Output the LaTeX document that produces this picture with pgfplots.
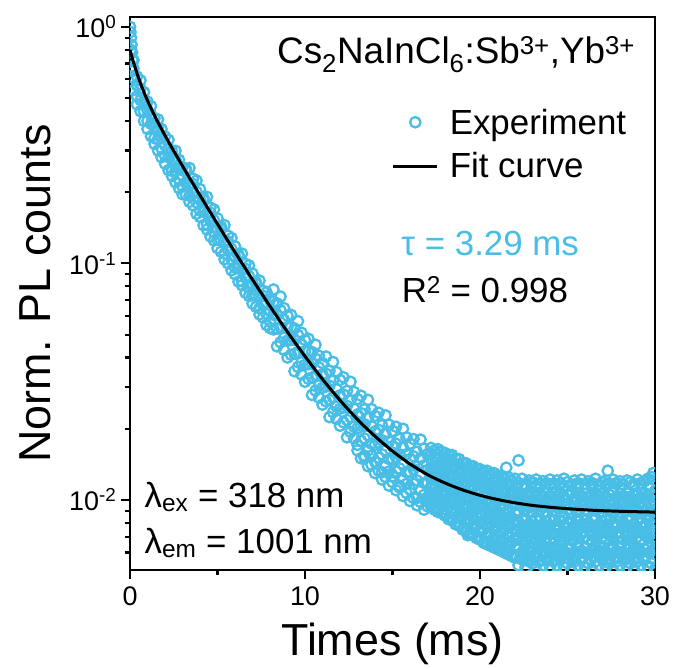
\documentclass[border=0pt]{standalone}
\usepackage{pgfplots}
\pgfplotsset{compat=1.18}
\usepackage{pgfplotstable}
\usetikzlibrary{calc}
\usepackage{fontspec}
\setmainfont{Liberation Sans}
\definecolor{expblue}{RGB}{72,190,230}
\pgfplotsset{
  explegend/.style={legend image code/.code={\path (0bp,0bp) (44bp,0bp); \draw[##1] plot coordinates {(22bp,0bp)};}},
  fitlegend/.style={legend image code/.code={\draw[##1] (0bp,0bp) -- (44bp,0bp);}},
}

\pgfplotstableread{
t y
0.00 1.00
0.03 0.95
0.06 0.90
0.09 0.84
0.12 0.78
0.15 0.72
0.10 0.68
0.15 0.65
0.05 0.80
}\startdata

\pgfplotstableread{
t a b c d
0.2 0.608 0.665 0.722 0.54
0.4 0.508 0.565 0.616 0.47
0.6 0.490 0.548 0.594 0.44
0.8 0.439 0.486 0.529 0.40
1.0 0.400 0.444 0.483 0.37
1.2 0.389 0.426 0.462 0.345
1.4 0.338 0.375 0.409 0.32
1.6 0.335 0.375 0.406 0.30
1.8 0.307 0.340 0.370 0.281
2.0 0.285 0.316 0.344 0.264
2.2 0.281 0.307 0.333 0.248
2.4 0.246 0.274 0.298 0.234
2.6 0.246 0.275 0.299 0.220
2.8 0.227 0.252 0.274 0.208
3.0 0.212 0.235 0.255 0.196
3.2 0.219 0.246 0.251 0.195
3.4 0.193 0.216 0.253 0.182
3.6 0.200 0.217 0.228 0.176
3.8 0.181 0.201 0.224 0.162
4.0 0.167 0.186 0.206 0.157
4.2 0.165 0.185 0.189 0.145
4.4 0.146 0.163 0.191 0.139
4.6 0.151 0.164 0.172 0.130
4.8 0.136 0.152 0.169 0.125
5.0 0.126 0.141 0.155 0.116
5.2 0.125 0.140 0.143 0.112
5.4 0.110 0.124 0.145 0.104
5.6 0.114 0.124 0.131 0.100
5.8 0.104 0.115 0.128 0.0935
6.0 0.0959 0.107 0.118 0.0900
6.2 0.0951 0.107 0.109 0.0838
6.4 0.0841 0.0941 0.110 0.0808
6.6 0.0873 0.0949 0.0996 0.0752
6.8 0.0792 0.0882 0.0981 0.0728
7.0 0.0734 0.0820 0.0905 0.0677
7.2 0.0729 0.0818 0.0834 0.0655
7.4 0.0646 0.0723 0.0846 0.0609
7.6 0.0672 0.0730 0.0767 0.0591
7.8 0.0610 0.0679 0.0755 0.0549
8.0 0.0567 0.0633 0.0699 0.0533
}\earlydata

\pgfplotstableread{
t a b c d
8.2 0.0526 0.0607 0.0689 0.0776
8.4 0.0446 0.0530 0.0607 0.0678
8.6 0.0464 0.0538 0.0634 0.0724
8.8 0.0431 0.0485 0.0577 0.0647
9.0 0.0400 0.0472 0.0539 0.0600
9.2 0.0411 0.0474 0.0538 0.0606
9.4 0.0350 0.0415 0.0475 0.0531
9.6 0.0365 0.0423 0.0498 0.0570
9.8 0.0339 0.0382 0.0454 0.0509
10.0 0.0316 0.0373 0.0425 0.0474
10.2 0.0325 0.0375 0.0426 0.0480
10.4 0.0278 0.0329 0.0377 0.0422
10.6 0.0290 0.0336 0.0396 0.0453
10.8 0.0271 0.0305 0.0363 0.0407
11.0 0.0253 0.0298 0.0340 0.0379
11.2 0.0261 0.0302 0.0342 0.0404
11.4 0.0224 0.0265 0.0304 0.0352
11.6 0.0235 0.0272 0.0320 0.0383
11.8 0.0220 0.0248 0.0294 0.0347
12.0 0.0206 0.0243 0.0277 0.0322
12.2 0.0213 0.0246 0.0279 0.0330
12.4 0.0184 0.0218 0.0250 0.0289
12.6 0.0194 0.0224 0.0264 0.0316
12.8 0.0182 0.0204 0.0243 0.0286
13.0 0.0171 0.0201 0.0230 0.0267
13.2 0.0178 0.0206 0.0233 0.0276
13.4 0.0154 0.0182 0.0209 0.0242
13.6 0.0162 0.0188 0.0222 0.0265
13.8 0.0154 0.0173 0.0205 0.0242
14.0 0.0145 0.0171 0.0195 0.0227
14.2 0.0151 0.0175 0.0198 0.0234
14.4 0.0131 0.0156 0.0179 0.0207
14.6 0.0139 0.0162 0.0190 0.0228
14.8 0.0132 0.0149 0.0177 0.0208
15.0 0.0126 0.0148 0.0169 0.0196
15.2 0.0132 0.0152 0.0173 0.0204
15.4 0.0115 0.0136 0.0156 0.0181
15.6 0.0122 0.0142 0.0167 0.0200
15.8 0.0117 0.0131 0.0156 0.0184
16.0 0.0111 0.0131 0.0149 0.0173
16.2 0.0117 0.0135 0.0153 0.0181
16.4 0.0102 0.0121 0.0139 0.0160
16.6 0.0110 0.0127 0.0150 0.0180
16.8 0.0105 0.0118 0.0140 0.0165
17.0 0.0100 0.0118 0.0134 0.0156
}\middata

\pgfplotstableread{
t e
13.0 0.0162
13.2 0.0150
13.4 0.0151
13.6 0.0139
13.8 0.0141
14.0 0.0130
14.2 0.0133
14.4 0.0122
14.6 0.0125
14.8 0.0115
15.0 0.0119
15.2 0.0110
15.4 0.0113
15.6 0.0104
15.8 0.0107
16.0 0.0099
16.2 0.0102
16.4 0.0095
16.6 0.0098
16.8 0.0091
17.0 0.0094
}\midlow

\pgfplotstableread{
t a b c d e f g
17.2 .0094 .0101 .0114 .0123 .0137 .0149 .0166
17.4 .0091 .0102 .0111 .0124 .0134 .0151 .0162
17.6 .0089 .0100 .0109 .0122 .0133 .0149 .0164
17.8 .0088 .0096 .0108 .0118 .0132 .0145 .0160
18.0 .0086 .0096 .0105 .0118 .0129 .0145 .0158
18.2 .0083 .0094 .0102 .0115 .0126 .0142 .0155
18.4 .0082 .0090 .0102 .0111 .0126 .0138 .0155
18.6 .0079 .0089 .0098 .0110 .0121 .0137 .0150
18.8 .0078 .0086 .0098 .0107 .0121 .0132 .0149
19.0 .0075 .0085 .0093 .0106 .0116 .0131 .0144
19.2 .0074 .0082 .0093 .0102 .0116 .0127 .0143
19.4 .0072 .0081 .0089 .0101 .0112 .0126 .0140
19.6 .0071 .0078 .0090 .0098 .0112 .0123 .0139
19.8 .0069 .0078 .0086 .0098 .0108 .0122 .0136
20.0 .0068 .0075 .0086 .0095 .0108 .0119 .0135
20.2 .0066 .0075 .0082 .0095 .0104 .0119 .0132
20.4 .0065 .0072 .0083 .0092 .0105 .0116 .0133
20.6 .0064 .0072 .0080 .0092 .0101 .0116 .0129
20.8 .0063 .0070 .0081 .0089 .0102 .0113 .0130
21.0 .0062 .0070 .0078 .0089 .0099 .0113 .0126
21.2 .0061 .0068 .0079 .0087 .0100 .0110 .0127
21.4 .0060 .0068 .0076 .0087 .0096 .0110 .0124
21.6 .0059 .0066 .0076 .0084 .0097 .0108 .0125
21.8 .0058 .0066 .0073 .0084 .0094 .0108 .0121
22.0 .0057 .0064 .0074 .0082 .0095 .0106 .0123
22.2 .0053 .0062 .0069 .0081 .0090 .0107 .0118
22.4 .0056 .0060 .0072 .0078 .0094 .0103 .0123
22.6 .0052 .0064 .0068 .0082 .0091 .0106 .0116
22.8 .0055 .0061 .0071 .0079 .0093 .0104 .0121
23.0 .0054 .0063 .0069 .0081 .0089 .0107 .0119
23.2 .0051 .0060 .0072 .0078 .0094 .0103 .0122
23.4 .0055 .0064 .0068 .0082 .0090 .0106 .0117
23.6 .0053 .0061 .0071 .0079 .0093 .0104 .0120
23.8 .0056 .0063 .0069 .0081 .0089 .0107 .0118
24.0 .0052 .0060 .0072 .0078 .0094 .0103 .0122
24.2 .0055 .0063 .0069 .0082 .0090 .0106 .0117
24.4 .0053 .0061 .0071 .0079 .0093 .0104 .0121
24.6 .0056 .0064 .0068 .0081 .0089 .0107 .0118
24.8 .0052 .0060 .0072 .0078 .0094 .0103 .0123
25.0 .0054 .0062 .0070 .0080 .0091 .0105 .0119
25.2 .0051 .0063 .0068 .0083 .0089 .0106 .0116
25.4 .0055 .0060 .0071 .0078 .0093 .0102 .0121
25.6 .0053 .0064 .0069 .0081 .0090 .0107 .0118
25.8 .0056 .0061 .0072 .0079 .0094 .0104 .0122
26.0 .0052 .0063 .0070 .0082 .0091 .0106 .0117
26.2 .0054 .0060 .0068 .0080 .0089 .0103 .0120
26.4 .0051 .0062 .0071 .0078 .0093 .0105 .0118
26.6 .0055 .0064 .0069 .0083 .0090 .0107 .0123
26.8 .0053 .0061 .0072 .0079 .0092 .0104 .0116
27.0 .0056 .0063 .0070 .0081 .0089 .0106 .0119
27.2 .0052 .0060 .0068 .0078 .0094 .0102 .0121
27.4 .0054 .0062 .0071 .0082 .0091 .0105 .0117
27.6 .0051 .0064 .0069 .0080 .0090 .0107 .0122
27.8 .0055 .0061 .0072 .0079 .0093 .0103 .0118
28.0 .0053 .0063 .0070 .0083 .0089 .0106 .0120
28.2 .0056 .0060 .0068 .0080 .0092 .0104 .0116
28.4 .0052 .0062 .0071 .0078 .0090 .0107 .0121
28.6 .0054 .0064 .0069 .0082 .0094 .0103 .0119
28.8 .0051 .0061 .0072 .0079 .0091 .0105 .0117
29.0 .0055 .0063 .0070 .0081 .0089 .0106 .0122
29.2 .0053 .0060 .0068 .0080 .0093 .0102 .0118
29.4 .0056 .0062 .0071 .0078 .0090 .0107 .0120
29.6 .0052 .0064 .0069 .0083 .0092 .0104 .0123
29.8 .0054 .0061 .0072 .0079 .0089 .0106 .0125
30.0 .0051 .0063 .0070 .0081 .0094 .0103 .0121
}\taildata

\pgfplotstableread{
t a b c
17.3 .0099 .0115 .0146
17.5 .0093 .0120 .0139
17.7 .0096 .0112 .0143
17.9 .0089 .0115 .0135
18.1 .0091 .0107 .0139
18.3 .0085 .0111 .0130
18.5 .0087 .0102 .0134
18.7 .0081 .0106 .0125
18.9 .0083 .0098 .0128
19.1 .0077 .0101 .0120
19.3 .0079 .0093 .0123
19.5 .0073 .0097 .0115
19.7 .0076 .0090 .0119
19.9 .0070 .0094 .0111
20.1 .0073 .0086 .0115
20.3 .0067 .0090 .0107
20.5 .0070 .0083 .0112
20.7 .0065 .0088 .0104
20.9 .0068 .0081 .0109
21.1 .0063 .0086 .0102
21.3 .0066 .0079 .0107
21.5 .0061 .0083 .0100
21.7 .0064 .0077 .0105
21.9 .0059 .0080 .0098
22.1 .0062 .0075 .0103
22.3 .0057 .0076 .0097
22.5 .0059 .0073 .0100
22.7 .0056 .0077 .0096
22.9 .0060 .0074 .0099
23.1 .0057 .0076 .0097
23.3 .0058 .0073 .0100
23.5 .0056 .0077 .0096
23.7 .0060 .0074 .0099
23.9 .0057 .0076 .0097
24.1 .0059 .0073 .0100
24.3 .0056 .0077 .0096
24.5 .0058 .0075 .0099
24.7 .0060 .0073 .0097
24.9 .0057 .0076 .0100
25.1 .0059 .0074 .0096
25.3 .0056 .0077 .0098
25.5 .0058 .0073 .0100
25.7 .0060 .0076 .0097
25.9 .0057 .0074 .0099
26.1 .0059 .0077 .0096
26.3 .0056 .0073 .0098
26.5 .0058 .0076 .0100
26.7 .0060 .0074 .0097
26.9 .0057 .0077 .0099
27.1 .0059 .0073 .0096
27.3 .0056 .0076 .0098
27.5 .0058 .0074 .0100
27.7 .0060 .0077 .0097
27.9 .0057 .0073 .0099
28.1 .0059 .0076 .0096
28.3 .0056 .0074 .0098
28.5 .0058 .0077 .0100
28.7 .0060 .0073 .0097
28.9 .0057 .0076 .0099
29.1 .0059 .0074 .0096
29.3 .0056 .0077 .0098
29.5 .0058 .0073 .0100
29.7 .0060 .0076 .0097
29.9 .0057 .0074 .0099
}\tailmid

\pgfplotstableread{
t a b c
17.2 .0107 .0130 .0157
17.6 .0104 .0128 .0156
18.0 .0100 .0123 .0151
18.4 .0096 .0118 .0146
18.8 .0092 .0114 .0141
19.2 .0087 .0109 .0135
19.6 .0084 .0105 .0131
20.0 .0080 .0101 .0127
20.4 .0077 .0098 .0124
20.8 .0075 .0095 .0121
21.2 .0073 .0093 .0118
21.6 .0071 .0090 .0116
22.0 .0069 .0088 .0114
22.4 .0068 .0083 .0115
22.8 .0063 .0089 .0108
23.2 .0069 .0084 .0114
23.6 .0064 .0088 .0109
24.0 .0067 .0082 .0116
24.4 .0062 .0089 .0110
24.8 .0068 .0085 .0113
25.2 .0065 .0088 .0108
25.6 .0069 .0083 .0115
26.0 .0063 .0087 .0111
26.4 .0067 .0084 .0114
26.8 .0064 .0089 .0109
27.2 .0069 .0082 .0116
27.6 .0062 .0088 .0110
28.0 .0066 .0085 .0113
28.4 .0068 .0083 .0108
28.8 .0063 .0089 .0115
29.2 .0067 .0084 .0111
29.6 .0064 .0087 .0114
30.0 .0068 .0085 .0109
}\tailgap

\pgfplotstableread{
t y
21.5 0.0137
22.2 0.0147
27.3 0.0133
29.9 0.0130
19.3 0.0071
22.9 0.0050
25.7 0.0050
}\outliers

\pgfplotstableread{
t y
0 0.7988
0.05 0.7738
0.1 0.7503
0.15 0.7283
0.2 0.7074
0.4 0.6352
0.6 0.5769
0.8 0.5285
1.0 0.4878
1.2 0.4527
1.4 0.4219
1.6 0.3945
1.8 0.3698
2.0 0.3473
2.4 0.3076
2.8 0.2735
3.2 0.2435
3.6 0.2172
4.0 0.1939
4.5 0.1686
5.0 0.1467
5.5 0.1278
6.0 0.1115
7.0 0.0854
8.0 0.0659
9.0 0.0513
10.0 0.0405
11.0 0.0324
12.0 0.0264
13.0 0.0219
14.0 0.0186
15.0 0.0161
16.0 0.0142
17.0 0.0128
18.0 0.0118
19.0 0.01104
20.0 0.01047
21.0 0.01005
22.0 0.00973
23.0 0.00949
24.0 0.00932
25.0 0.00919
26.0 0.00909
27.0 0.00901
28.0 0.00896
29.0 0.00892
30.0 0.00889
}\fitdata

\begin{document}
\begin{tikzpicture}
\begin{axis}[
  scale only axis, width=525bp, height=553bp,
  xmin=0, xmax=30, ymode=log, ymin=0.00506, ymax=1.10,
  xtick={0,10,20,30}, minor xtick={5,15,25},
  ytick={0.01,0.1,1},
  yticklabels={10\textsuperscript{-2},10\textsuperscript{-1},10\textsuperscript{0}},
  minor ytick={0.006,0.007,0.008,0.009,0.02,0.03,0.04,0.05,0.06,0.07,0.08,0.09,0.2,0.3,0.4,0.5,0.6,0.7,0.8,0.9},
  tick align=outside, xtick pos=left, ytick pos=left,
  major tick length=9bp, minor tick length=5bp,
  line width=2.8bp,
  tick style={line width=2.2bp, black},
  clip marker paths=true,
  /pgf/number format/assume math mode=true,
  tick label style={font=\fontsize{27}{30}\selectfont},
  xticklabel style={yshift=-3bp},
  xlabel={Times (ms)}, ylabel={Norm. PL counts},
  every axis x label/.style={at={(axis description cs:0.5,-0.154)}, anchor=base, font=\fontsize{45}{50}\selectfont},
  every axis y label/.style={at={(axis description cs:-0.152,0.5)}, rotate=90, anchor=base, font=\fontsize{45}{50}\selectfont},
  legend style={at={(axis description cs:0.496,0.840)}, anchor=north west, draw=none, fill=none, inner sep=0pt, row sep=13bp,
    font=\fontsize{35}{40}\selectfont, /tikz/every odd column/.append style={column sep=9bp}},
  legend cell align=left,
  exp/.style={only marks, mark=o, mark size=5.2bp, line width=2.3bp, color=expblue},
]
\addplot[exp, explegend] table[x=t,y=y]{\startdata};
\addlegendentry{Experiment}
\addplot[exp, forget plot] table[x=t,y=d]{\earlydata};
\addplot[exp, forget plot] table[x=t,y=a]{\earlydata};
\addplot[exp, forget plot] table[x=t,y=b]{\earlydata};
\addplot[exp, forget plot] table[x=t,y=c]{\earlydata};
\addplot[exp, forget plot] table[x=t,y=a]{\middata};
\addplot[exp, forget plot] table[x=t,y=b]{\middata};
\addplot[exp, forget plot] table[x=t,y=c]{\middata};
\addplot[exp, forget plot] table[x=t,y=d]{\middata};
\addplot[exp, forget plot] table[x=t,y=e]{\midlow};
\addplot[exp, forget plot] table[x=t,y=a]{\taildata};
\addplot[exp, forget plot] table[x=t,y=b]{\taildata};
\addplot[exp, forget plot] table[x=t,y=c]{\taildata};
\addplot[exp, forget plot] table[x=t,y=d]{\taildata};
\addplot[exp, forget plot] table[x=t,y=e]{\taildata};
\addplot[exp, forget plot] table[x=t,y=f]{\taildata};
\addplot[exp, forget plot] table[x=t,y=g]{\taildata};
\addplot[exp, forget plot] table[x=t,y=a]{\tailmid};
\addplot[exp, forget plot] table[x=t,y=b]{\tailmid};
\addplot[exp, forget plot] table[x=t,y=c]{\tailmid};
\addplot[exp, forget plot] table[x=t,y=a]{\tailgap};
\addplot[exp, forget plot] table[x=t,y=b]{\tailgap};
\addplot[exp, forget plot] table[x=t,y=c]{\tailgap};
\addplot[exp, forget plot] table[x=t,y=y]{\outliers};
\addplot[black, line width=3bp, smooth, no markers, fitlegend] table[x=t,y=y]{\fitdata};
\addlegendentry{Fit curve}
\node[anchor=base east, font=\fontsize{37}{42}\selectfont] at (rel axis cs:0.971,0.9168)
  {Cs\textsubscript{2}NaInCl\textsubscript{6}:Sb\textsuperscript{3+},Yb\textsuperscript{3+}};
\node[anchor=base, font=\fontsize{35}{40}\selectfont, text=expblue] at (rel axis cs:0.686,0.5696) {τ = 3.29 ms};
\node[anchor=base, font=\fontsize{35}{40}\selectfont] at (rel axis cs:0.676,0.4846) {R\textsuperscript{2} = 0.998};
\node[anchor=base west, font=\fontsize{35}{40}\selectfont] at (rel axis cs:0.019,0.1139) {λ\textsubscript{ex} = 318 nm};
\node[anchor=base west, font=\fontsize{35}{40}\selectfont] at (rel axis cs:0.019,0.0307) {λ\textsubscript{em} = 1001 nm};
\end{axis}
\pgfresetboundingbox
\useasboundingbox ($(current axis.south west)+(-130bp,-99bp)$) rectangle ($(current axis.north east)+(20bp,17bp)$);
\end{tikzpicture}
\end{document}
